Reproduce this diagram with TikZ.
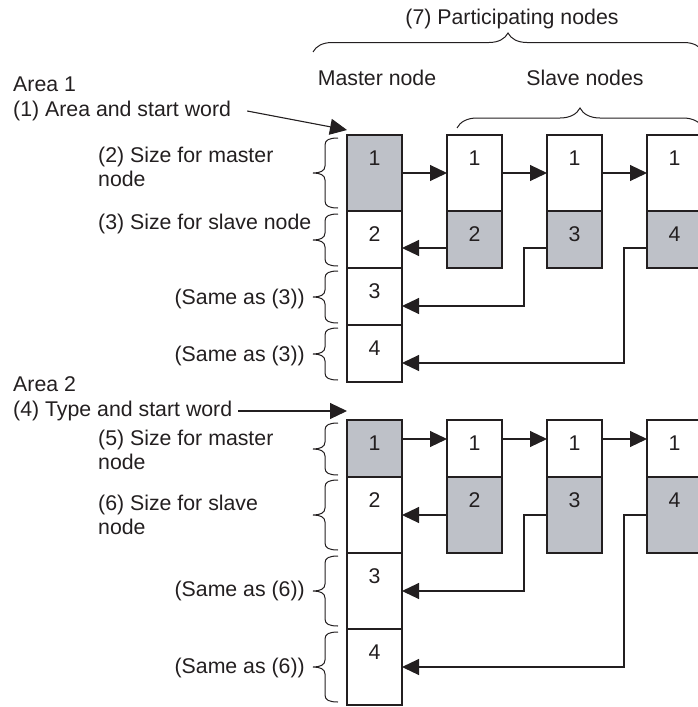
\documentclass[tikz,border=0pt]{standalone}
\usepackage{fontspec}
\setmainfont{Liberation Sans}
\usetikzlibrary{arrows.meta,decorations.pathreplacing}
\definecolor{shade}{RGB}{190,193,200}
\definecolor{ink}{RGB}{35,31,32}
\tikzset{
  cell/.style={draw=ink, line width=1.2pt, anchor=north west, outer sep=0pt,
    minimum width=55pt, minimum height=#1, inner sep=0pt},
  num/.style={anchor=north, yshift=-15.5pt, inner sep=0pt},
  link/.style={draw=ink, line width=1.1pt, -{Triangle[length=17pt,width=16pt]}},
  txt/.style={inner sep=0pt},
  brc/.style={draw=ink, line width=1pt, decorate, decoration={brace, amplitude=#1}},
  pics/lbrc/.style={code={
    \draw[ink, line width=1pt] (0,0) .. controls (-9,0) and (-13,2) .. (-13,7)
      -- (-13,{#1-7}) .. controls (-13,{#1-2}) and (-18,#1) .. (-25,#1)
      .. controls (-18,#1) and (-13,{#1+2}) .. (-13,{#1+7})
      -- (-13,{2*#1-7}) .. controls (-13,{2*#1-2}) and (-9,{2*#1}) .. (0,{2*#1});
  }}
}
\begin{document}
\begin{tikzpicture}[x=1pt, y=-1pt, font=\fontsize{21.3}{24}\selectfont, text=ink]
  \useasboundingbox (0,0) rectangle (697,707);
  % headings
  \node[txt] (part) at (512,18.5) {(7) Participating nodes};
  \node[txt] (mastertxt) at (377,78) {Master node};
  \node[txt] (slavetxt) at (585,78) {Slave nodes};
  \draw[brc=19pt] (313,52) -- (703,52);
  \draw[brc=20pt] (457,128) -- (703,128);

  % area 1
  \node[txt, anchor=west] (area1) at (13,84) {Area 1};
  \node[txt, anchor=west] (start1) at (13,111) {(1) Area and start word};
  \node[txt, anchor=west, align=left] (size11) at (98,167) {(2) Size for master\\node};
  \node[txt, anchor=west] (size12) at (98,224) {(3) Size for slave node};
  \node[txt, anchor=east] (same13) at (305,299) {(Same as (3))};
  \node[txt, anchor=east] (same14) at (305,356) {(Same as (3))};

  \node[cell=76pt, fill=shade, label={[num]north:1}] (ms11) at (347,135) {};
  \node[cell=57pt, label={[num]north:2}] (ms12) at (ms11.south west) {};
  \node[cell=57pt, label={[num]north:3}] (ms13) at (ms12.south west) {};
  \node[cell=57pt, label={[num]north:4}] (ms14) at (ms13.south west) {};
  \node[cell=76pt, label={[num]north:1}] (hd11) at (447,135) {};
  \node[cell=57pt, fill=shade, label={[num]north:2}] (sz11) at (hd11.south west) {};
  \node[cell=76pt, label={[num]north:1}] (hd12) at (547,135) {};
  \node[cell=57pt, fill=shade, label={[num]north:3}] (sz12) at (hd12.south west) {};
  \node[cell=76pt, label={[num]north:1}] (hd13) at (647,135) {};
  \node[cell=57pt, fill=shade, label={[num]north:4}] (sz13) at (hd13.south west) {};

  \pic at ([xshift=-9pt,yshift=-3pt]ms11.north west) {lbrc=35};
  \pic at ([xshift=-9pt,yshift=-3pt]ms12.north west) {lbrc=26};
  \pic at ([xshift=-9pt,yshift=-3pt]ms13.north west) {lbrc=26};
  \pic at ([xshift=-9pt,yshift=-3pt]ms14.north west) {lbrc=26};

  \draw[link] ([xshift=16pt]start1.east) -- ([yshift=5pt]ms11.north west);
  \draw[link] (ms11) -- (hd11);
  \draw[link] (hd11) -- (hd12);
  \draw[link] (hd12) -- (hd13);
  \draw[link] ([yshift=-37pt]sz11.north west) -- ([yshift=-37pt]ms12.north east);
  \draw[link] ([yshift=-37pt]sz12.north west) -- ++(-23,0) |- ([yshift=-38pt]ms13.north east);
  \draw[link] ([yshift=-37pt]sz13.north west) -- ++(-23,0) |- ([yshift=-38pt]ms14.north east);

  % area 2
  \node[txt, anchor=west] (area2) at (13,384) {Area 2};
  \node[txt, anchor=west] (start2) at (13,411) {(4) Type and start word};
  \node[txt, anchor=west, align=left] (size21) at (98,450) {(5) Size for master\\node};
  \node[txt, anchor=west, align=left] (size22) at (98,515) {(6) Size for slave\\node};
  \node[txt, anchor=east] (same23) at (305,591) {(Same as (6))};
  \node[txt, anchor=east] (same24) at (305,668) {(Same as (6))};

  \node[cell=57pt, fill=shade, label={[num]north:1}] (ms21) at (347,420) {};
  \node[cell=76pt, label={[num]north:2}] (ms22) at (ms21.south west) {};
  \node[cell=76pt, label={[num]north:3}] (ms23) at (ms22.south west) {};
  \node[cell=76pt, label={[num]north:4}] (ms24) at (ms23.south west) {};
  \node[cell=57pt, label={[num]north:1}] (hd21) at (447,420) {};
  \node[cell=76pt, fill=shade, label={[num]north:2}] (sz21) at (hd21.south west) {};
  \node[cell=57pt, label={[num]north:1}] (hd22) at (547,420) {};
  \node[cell=76pt, fill=shade, label={[num]north:3}] (sz22) at (hd22.south west) {};
  \node[cell=57pt, label={[num]north:1}] (hd23) at (647,420) {};
  \node[cell=76pt, fill=shade, label={[num]north:4}] (sz23) at (hd23.south west) {};

  \pic at ([xshift=-9pt,yshift=-3pt]ms21.north west) {lbrc=26};
  \pic at ([xshift=-9pt,yshift=-3pt]ms22.north west) {lbrc=35};
  \pic at ([xshift=-9pt,yshift=-3pt]ms23.north west) {lbrc=35};
  \pic at ([xshift=-9pt,yshift=-3pt]ms24.north west) {lbrc=35};

  \draw[link] ([xshift=6pt]start2.east) -- (start2.east -| ms21.west);
  \draw[link] ([yshift=-19pt]ms21.north east) -- ([yshift=-19pt]hd21.north west);
  \draw[link] ([yshift=-19pt]hd21.north east) -- ([yshift=-19pt]hd22.north west);
  \draw[link] ([yshift=-19pt]hd22.north east) -- ([yshift=-19pt]hd23.north west);
  \draw[link] (sz21) -- (ms22);
  \draw[link] (sz22.west) -- ++(-23,0) |- (ms23.east);
  \draw[link] (sz23.west) -- ++(-23,0) |- (ms24.east);
\end{tikzpicture}
\end{document}
